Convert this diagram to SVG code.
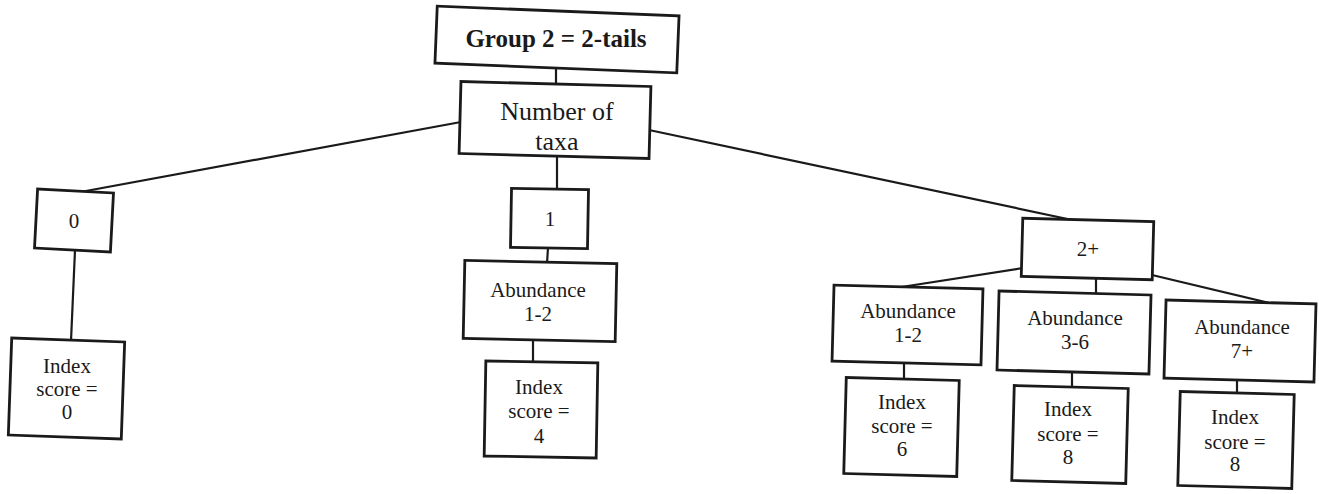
<svg xmlns="http://www.w3.org/2000/svg" width="1319" height="494" viewBox="0 0 1319 494">
<style>
.box{fill:#fff;stroke:#1a1a1a;stroke-width:2.8}
.t{font-family:"Liberation Serif","Times New Roman",serif;fill:#1a1a1a;text-anchor:middle}
.s{font-size:21px}
.m{font-size:26px}
.b{font-size:25px;font-weight:bold}
.c line{stroke:#1a1a1a;stroke-width:2.2;fill:none}
</style>
<rect width="1319" height="494" fill="#fff"/>
<g class="c" id="connectors">
<line x1="556" y1="67" x2="556" y2="85"/>
<line x1="461" y1="122" x2="75" y2="193"/>
<line x1="75" y1="250" x2="71" y2="341"/>
<line x1="557" y1="156" x2="557" y2="190"/>
<line x1="548" y1="248" x2="547" y2="263"/>
<line x1="533" y1="340" x2="533" y2="363"/>
<line x1="649" y1="130" x2="1077" y2="221"/>
<line x1="1023" y1="268" x2="895" y2="288"/>
<line x1="1096" y1="278" x2="1096" y2="294"/>
<line x1="1152" y1="275" x2="1278" y2="305"/>
<line x1="904" y1="363" x2="904" y2="380"/>
<line x1="1072" y1="372" x2="1072" y2="388"/>
<line x1="1237" y1="380" x2="1237" y2="394"/>
</g>
<g id="group2">
<rect class="box" x="436" y="11" width="242" height="57" transform="rotate(2.3 557 39.5)"/>
<text class="t b" x="556" y="47">Group 2 = 2-tails</text>
</g>
<g id="taxa">
<rect class="box" x="460" y="84" width="190" height="72" transform="rotate(1.5 555 120)"/>
<text class="t m" x="557" y="120">Number of</text>
<text class="t m" x="557" y="150">taxa</text>
</g>
<g id="n0">
<rect class="box" x="36" y="191" width="76" height="59" transform="rotate(3 74 220.5)"/>
<text class="t s" x="74" y="228">0</text>
</g>
<g id="n1">
<rect class="box" x="511" y="189" width="77" height="59" transform="rotate(1 549.5 218.5)"/>
<text class="t s" x="550" y="226">1</text>
</g>
<g id="n2plus">
<rect class="box" x="1022" y="220" width="131" height="58" transform="rotate(1.5 1087.5 249)"/>
<text class="t s" x="1088" y="256">2+</text>
</g>
<g id="ab1">
<rect class="box" x="464" y="262" width="152" height="78" transform="rotate(1.2 540 301)"/>
<text class="t s" x="538" y="297">Abundance</text>
<text class="t s" x="538" y="321">1-2</text>
</g>
<g id="ab12">
<rect class="box" x="833" y="287" width="149" height="76" transform="rotate(1.5 907.5 325)"/>
<text class="t s" x="908" y="318">Abundance</text>
<text class="t s" x="908" y="342">1-2</text>
</g>
<g id="ab36">
<rect class="box" x="998" y="293" width="152" height="79" transform="rotate(1.5 1074 332.5)"/>
<text class="t s" x="1075" y="325">Abundance</text>
<text class="t s" x="1075" y="349">3-6</text>
</g>
<g id="ab7">
<rect class="box" x="1165" y="302" width="150" height="78" transform="rotate(1.5 1240 341)"/>
<text class="t s" x="1242" y="334">Abundance</text>
<text class="t s" x="1242" y="358">7+</text>
</g>
<g id="i0">
<rect class="box" x="10" y="340" width="113" height="97" transform="rotate(2 66.5 388.5)"/>
<text class="t s" x="67" y="373">Index</text>
<text class="t s" x="67" y="396">score =</text>
<text class="t s" x="67" y="419">0</text>
</g>
<g id="i4">
<rect class="box" x="485" y="362" width="112" height="95" transform="rotate(1 541 409.5)"/>
<text class="t s" x="539" y="394">Index</text>
<text class="t s" x="539" y="418">score =</text>
<text class="t s" x="539" y="443">4</text>
</g>
<g id="i6">
<rect class="box" x="845" y="379" width="113" height="96" transform="rotate(1.5 901.5 427)"/>
<text class="t s" x="902" y="409">Index</text>
<text class="t s" x="902" y="433">score =</text>
<text class="t s" x="902" y="456">6</text>
</g>
<g id="i8a">
<rect class="box" x="1013" y="387" width="114" height="95" transform="rotate(1.5 1070 434.5)"/>
<text class="t s" x="1068" y="416">Index</text>
<text class="t s" x="1068" y="441">score =</text>
<text class="t s" x="1068" y="464">8</text>
</g>
<g id="i8b">
<rect class="box" x="1179" y="393" width="114" height="94" transform="rotate(1.5 1236 440)"/>
<text class="t s" x="1235" y="424">Index</text>
<text class="t s" x="1235" y="449">score =</text>
<text class="t s" x="1235" y="471">8</text>
</g>
</svg>
